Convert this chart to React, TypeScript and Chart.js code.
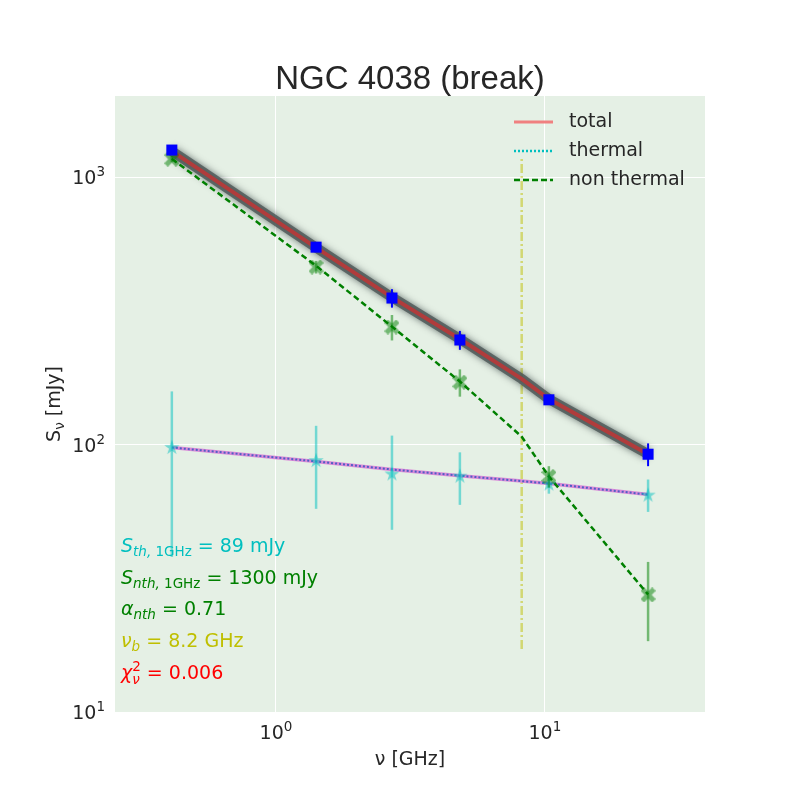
import React, { useEffect, useRef } from 'react';
import Chart from 'chart.js/auto';

// === Measured data (GHz, mJy) ===
const FREQ = [0.41, 1.41, 2.7, 4.83, 10.35, 24.2];
const S_TOTAL = [1262, 547, 353, 246, 147, 92];
const S_TOTAL_ERR = [25, 20, 28, 20, 5, 9];
const S_NTH = [1167, 461, 275, 171, 76, 27.4];
const S_NTH_ERR = [30, 25, 30, 20, 7, 9];
const S_TH = [98, 87.5, 78, 76.5, 71.5, 65];
const S_TH_ERR = [60, 30, 30, 17, 6, 9];

// === Model curves ===
const MODEL_FREQ = [0.41, 1.41, 2.7, 4.83, 8.2, 10.35, 24.2];
const MODEL_TOTAL = [1250, 545, 355, 248, 176, 148, 92];
const MODEL_TH = [97.5, 86.5, 80.7, 76.5, 73, 71.5, 65];
const MODEL_NTH = [1170, 466, 276, 172, 107, 76, 27.5];

const BREAK_FREQ = 8.2;
const BREAK_RANGE = [17.2, 1180];

// === Axes ===
const X_RANGE = [0.252, 39.4];
const Y_RANGE = [10, 2010];
const X_TICKS = [1, 10];
const X_TICK_EXP = ['0', '1'];
const Y_TICKS = [10, 100, 1000];
const Y_TICK_EXP = ['1', '2', '3'];

const TEXT = '#262626';
const DJ = '"DejaVu Sans"';

const pts = (xs: number[], ys: number[]) => xs.map((x, i) => ({ x, y: ys[i] }));

const makeStar = (size: number, color: string) => {
  const c = document.createElement('canvas');
  c.width = size; c.height = size;
  const g = c.getContext('2d')!;
  const R = size / 2, r = R * 0.382;
  g.fillStyle = color;
  g.beginPath();
  for (let i = 0; i < 10; i++) {
    const a = -Math.PI / 2 + (i * Math.PI) / 5;
    const rr = i % 2 === 0 ? R : r;
    const px = R + rr * Math.cos(a), py = R + 0.8 + rr * Math.sin(a);
    i === 0 ? g.moveTo(px, py) : g.lineTo(px, py);
  }
  g.closePath();
  g.fill();
  return c;
};

const makeX = (size: number, color: string) => {
  const c = document.createElement('canvas');
  c.width = size; c.height = size;
  const g = c.getContext('2d')!;
  const L = size * 0.55, w = size * 0.17;
  g.translate(size / 2, size / 2);
  g.rotate(Math.PI / 4);
  g.fillStyle = color;
  g.beginPath();
  const poly = [[-w, L], [w, L], [w, w], [L, w], [L, -w], [w, -w], [w, -L], [-w, -L], [-w, -w], [-L, -w], [-L, w], [-w, w]];
  poly.forEach(([a, b], i) => (i === 0 ? g.moveTo(a, b) : g.lineTo(a, b)));
  g.closePath();
  g.fill();
  return c;
};

type Seg = { t: string; font: string; dy?: number; over?: boolean };

const segsWidth = (ctx: CanvasRenderingContext2D, segs: Seg[]) => {
  let w = 0, last = 0;
  segs.forEach(s => {
    ctx.font = s.font;
    const sw = ctx.measureText(s.t).width;
    if (s.over) { w += Math.max(0, sw - last); last = Math.max(sw, last); }
    else { w += sw; last = sw; }
  });
  return w;
};

const drawSegs = (ctx: CanvasRenderingContext2D, segs: Seg[], x: number, y: number, align: 'left' | 'center' | 'right', color: string) => {
  const total = segsWidth(ctx, segs);
  let cx = align === 'left' ? x : align === 'center' ? x - total / 2 : x - total;
  let prevX = cx, prevW = 0;
  ctx.fillStyle = color;
  ctx.textAlign = 'left';
  ctx.textBaseline = 'alphabetic';
  segs.forEach(s => {
    ctx.font = s.font;
    const sw = ctx.measureText(s.t).width;
    if (s.over) {
      ctx.fillText(s.t, prevX, y + (s.dy || 0));
      const nw = Math.max(sw, prevW);
      cx = prevX + nw;
      prevW = nw;
    } else {
      ctx.fillText(s.t, cx, y + (s.dy || 0));
      prevX = cx; prevW = sw;
      cx += sw;
    }
  });
};

const F = (px: number, style = '') => `${style} ${px}px ${DJ}`.trim();

const ANNOTATIONS: { segs: Seg[]; color: string }[] = [
  { color: '#00bfbf', segs: [{ t: 'S', font: F(19, 'italic') }, { t: 'th,', font: F(13.5, 'italic'), dy: 4 }, { t: ' 1GHz', font: F(13.5), dy: 4 }, { t: ' = 89 mJy', font: F(19) }] },
  { color: '#008000', segs: [{ t: 'S', font: F(19, 'italic') }, { t: 'nth,', font: F(13.5, 'italic'), dy: 4 }, { t: ' 1GHz', font: F(13.5), dy: 4 }, { t: ' = 1300 mJy', font: F(19) }] },
  { color: '#008000', segs: [{ t: 'α', font: F(19, 'italic') }, { t: 'nth', font: F(13.5, 'italic'), dy: 4 }, { t: ' = 0.71', font: F(19) }] },
  { color: '#bfbf00', segs: [{ t: 'ν', font: F(19, 'italic') }, { t: 'b', font: F(13.5, 'italic'), dy: 4 }, { t: ' = 8.2 GHz', font: F(19) }] },
  { color: '#ff0000', segs: [{ t: 'χ', font: F(19, 'italic') }, { t: '2', font: F(13.5), dy: -8 }, { t: 'ν', font: F(13.5, 'italic'), dy: 5, over: true }, { t: ' = 0.006', font: F(19) }] },
];

const LEGEND = [
  { label: 'total', color: '#f08080', dash: [] as number[], width: 3 },
  { label: 'thermal', color: '#00bfbf', dash: [2, 2], width: 2.5 },
  { label: 'non thermal', color: '#008000', dash: [6, 3], width: 2.5 },
];

const ERRORS: Record<string, { err: number[]; color: string; width: number }> = {
  total: { err: S_TOTAL_ERR, color: '#0000ff', width: 2 },
  nth: { err: S_NTH_ERR, color: 'rgba(0,128,0,0.5)', width: 2.5 },
  th: { err: S_TH_ERR, color: 'rgba(0,191,191,0.5)', width: 2.5 },
};

const overlayPlugin = {
  id: 'overlay',
  beforeDraw(chart: any) {
    const { ctx, chartArea: a } = chart;
    ctx.save();
    ctx.fillStyle = '#fff';
    ctx.fillRect(0, 0, chart.width, chart.height);
    ctx.fillStyle = '#e5f0e5';
    ctx.fillRect(a.left, a.top, a.right - a.left, a.bottom - a.top);
    ctx.restore();
  },
  beforeDatasetDraw(chart: any, args: any) {
    const ds = chart.data.datasets[args.index];
    const ctx = chart.ctx;
    ctx.save();
    if (ds.blur) {
      ctx.shadowBlur = ds.blur;
      ctx.shadowColor = 'rgba(60,70,70,0.9)';
    }
    const e = ERRORS[ds.errKey];
    if (e) {
      const xs = chart.scales.x, ys = chart.scales.y;
      ctx.strokeStyle = e.color;
      ctx.lineWidth = e.width;
      ds.data.forEach((p: any, i: number) => {
        const px = xs.getPixelForValue(p.x);
        ctx.beginPath();
        ctx.moveTo(px, ys.getPixelForValue(p.y + e.err[i]));
        ctx.lineTo(px, ys.getPixelForValue(Math.max(p.y - e.err[i], 1e-3)));
        ctx.stroke();
      });
    }
  },
  afterDatasetDraw(chart: any) {
    chart.ctx.restore();
  },
  afterDraw(chart: any) {
    const { ctx, chartArea: a } = chart;
    const xs = chart.scales.x, ys = chart.scales.y;
    ctx.save();

    // title
    ctx.fillStyle = TEXT;
    ctx.font = '33px "Liberation Sans"';
    ctx.textAlign = 'center';
    ctx.textBaseline = 'alphabetic';
    ctx.fillText('NGC 4038 (break)', (a.left + a.right) / 2, 89);

    // tick labels
    X_TICKS.forEach((v, i) => {
      drawSegs(ctx, [{ t: '10', font: F(19) }, { t: X_TICK_EXP[i], font: F(13.5), dy: -8 }], xs.getPixelForValue(v), a.bottom + 27, 'center', TEXT);
    });
    Y_TICKS.forEach((v, i) => {
      drawSegs(ctx, [{ t: '10', font: F(19) }, { t: Y_TICK_EXP[i], font: F(13.5), dy: -8 }], a.left - 10, ys.getPixelForValue(v) + 7, 'right', TEXT);
    });

    // axis labels
    drawSegs(ctx, [{ t: 'ν [GHz]', font: F(19) }], (a.left + a.right) / 2, 765, 'center', TEXT);
    ctx.save();
    ctx.translate(60, (a.top + a.bottom) / 2);
    ctx.rotate(-Math.PI / 2);
    drawSegs(ctx, [{ t: 'S', font: F(19) }, { t: 'ν', font: F(13.5), dy: 4 }, { t: ' [mJy]', font: F(19) }], 0, 0, 'center', TEXT);
    ctx.restore();

    // legend
    LEGEND.forEach((l, i) => {
      const y = 122 + i * 29;
      ctx.strokeStyle = l.color;
      ctx.lineWidth = l.width;
      ctx.setLineDash(l.dash);
      ctx.beginPath();
      ctx.moveTo(514, y);
      ctx.lineTo(553, y);
      ctx.stroke();
      ctx.setLineDash([]);
      ctx.fillStyle = TEXT;
      ctx.font = F(19);
      ctx.textAlign = 'left';
      ctx.textBaseline = 'middle';
      ctx.fillText(l.label, 569, y);
    });

    // fit parameters
    ANNOTATIONS.forEach((an, i) => {
      drawSegs(ctx, an.segs, 121, 552 + i * 31.7, 'left', an.color);
    });
    ctx.restore();
  },
};

const App: React.FC = () => {
  const canvasRef = useRef<HTMLCanvasElement>(null);

  useEffect(() => {
    if (!canvasRef.current) return;
    const starImg = makeStar(16, 'rgba(0,191,191,0.5)');
    const xImg = makeX(15, 'rgba(0,128,0,0.5)');

    const line = (data: any[], color: string, width: number, order: number, extra: any = {}) => ({
      data, showLine: true, borderColor: color, borderWidth: width, pointRadius: 0, fill: false, order, ...extra,
    });

    const chart = new Chart(canvasRef.current, {
      type: 'scatter',
      data: {
        datasets: [
          line([{ x: BREAK_FREQ, y: BREAK_RANGE[0] }, { x: BREAK_FREQ, y: BREAK_RANGE[1] }], 'rgba(191,191,0,0.5)', 2.5, 20, { borderDash: [9, 3, 2, 3] }),
          line(pts(MODEL_FREQ, MODEL_TOTAL), 'rgba(75,85,85,0.8)', 10, 19, { blur: 7 }),
          line(pts(MODEL_FREQ, MODEL_TOTAL), '#b03c3c', 4, 18),
          line(pts(MODEL_FREQ, MODEL_TH), '#da8ad8', 3.5, 17),
          line(pts(MODEL_FREQ, MODEL_TH), '#4f5fc4', 2, 16, { borderDash: [2, 2] }),
          line(pts(MODEL_FREQ, MODEL_NTH), '#008000', 2.5, 15, { borderDash: [6, 3.5] }),
          { data: pts(FREQ, S_TH), pointStyle: starImg, pointRadius: 8, order: 3, errKey: 'th' } as any,
          { data: pts(FREQ, S_NTH), pointStyle: xImg, pointRadius: 7, order: 2, errKey: 'nth' } as any,
          { data: pts(FREQ, S_TOTAL), pointStyle: 'rect', pointRadius: 7.8, backgroundColor: '#0000ff', borderWidth: 0, order: 1, errKey: 'total' } as any,
        ],
      },
      options: {
        animation: false,
        responsive: false,
        events: [],
        layout: { padding: { left: 115, right: 95, top: 96, bottom: 88 } },
        plugins: { legend: { display: false }, tooltip: { enabled: false }, title: { display: false } },
        scales: {
          x: {
            type: 'logarithmic', min: X_RANGE[0], max: X_RANGE[1],
            afterBuildTicks: (s: any) => { s.ticks = X_TICKS.map(value => ({ value })); },
            ticks: { display: false },
            grid: { color: '#ffffff', lineWidth: 1, drawTicks: false },
            border: { display: false },
          },
          y: {
            type: 'logarithmic', min: Y_RANGE[0], max: Y_RANGE[1],
            afterBuildTicks: (s: any) => { s.ticks = Y_TICKS.map(value => ({ value })); },
            ticks: { display: false },
            grid: { color: '#ffffff', lineWidth: 1, drawTicks: false },
            border: { display: false },
          },
        },
      },
      plugins: [overlayPlugin],
    });

    return () => chart.destroy();
  }, []);

  return (
    <div style={{ position: 'fixed', left: 0, top: 0, width: 800, height: 800, background: '#fff' }}>
      <canvas ref={canvasRef} width={800} height={800} style={{ width: 800, height: 800 }} />
    </div>
  );
};

export default App;
